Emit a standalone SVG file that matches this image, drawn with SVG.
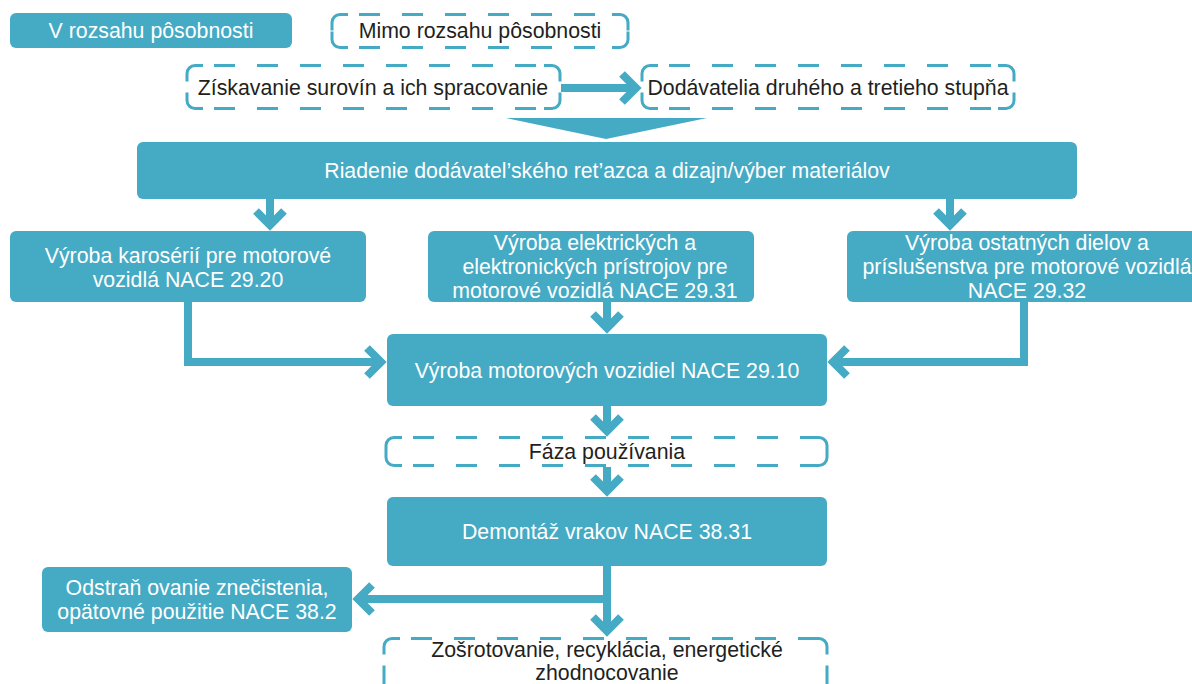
<svg xmlns="http://www.w3.org/2000/svg" width="1192" height="684" viewBox="0 0 1192 684">
<style>
.f{fill:#45AAC4;}
.bg{fill:#fff;}
.dc{fill:none;stroke:#45AAC4;stroke-width:3;}
.ds{fill:none;stroke:#45AAC4;stroke-width:3;stroke-dasharray:21 22;}
.tw{font-family:"Liberation Sans",Arial,sans-serif;font-size:21.3px;fill:#fff;text-anchor:middle;}
.tb{font-family:"Liberation Sans",Arial,sans-serif;font-size:21.3px;fill:#231F20;text-anchor:middle;}
.c{fill:none;stroke:#45AAC4;stroke-width:8;stroke-linejoin:miter;stroke-miterlimit:10;}
</style>
<rect width="1192" height="684" fill="#fff"/>
<g id="connectors">
<polygon points="506,118 707,118 606,139" fill="#45AAC4"/>
<path class="c" d="M561,88 H636 M622,74 L636,88 L622,102"/>
<path class="c" d="M270,199 V225 M256,211 L270,225 L284,211"/>
<path class="c" d="M950,199 V225 M936,211 L950,225 L964,211"/>
<path class="c" d="M607,302 V328 M593,314 L607,328 L621,314"/>
<path class="c" d="M188,302 V362 H381 M367,348 L381,362 L367,376"/>
<path class="c" d="M1024,302 V362 H833 M847,348 L833,362 L847,376"/>
<path class="c" d="M607,406 V431 M593,417 L607,431 L621,417"/>
<path class="c" d="M607,467 V491 M593,477 L607,491 L621,477"/>
<path class="c" d="M607,566 V631 M593,617 L607,631 L621,617"/>
<path class="c" d="M607,599 H358 M372,585 L358,599 L372,613"/>
</g>
<g id="legend-in">
<rect class="f" x="10" y="13" width="282" height="35" rx="6"/>
<text class="tw" x="151" y="38">V rozsahu pôsobnosti</text>
</g>
<g id="legend-out">
<path class="dc" d="M332,30.5 V22.5 A8,8 0 0 1 340,14.5 H348 M612,14.5 H620 A8,8 0 0 1 628,22.5 V30.5 M628,31.5 V39.5 A8,8 0 0 1 620,47.5 H612 M348,47.5 H340 A8,8 0 0 1 332,39.5 V31.5"/>
<path class="ds" d="M359,14.5 H612 M359,47.5 H612"/>
<text class="tb" x="480" y="38">Mimo rozsahu pôsobnosti</text>
</g>
<g id="n-raw">
<path class="dc" d="M187,81.5 V73.5 A8,8 0 0 1 195,65.5 H203 M544,65.5 H552 A8,8 0 0 1 560,73.5 V81.5 M560,92.5 V100.5 A8,8 0 0 1 552,108.5 H544 M203,108.5 H195 A8,8 0 0 1 187,100.5 V92.5"/>
<path class="ds" d="M214,65.5 H544 M214,108.5 H544"/>
<text class="tb" x="373" y="95">Získavanie surovín a ich spracovanie</text>
</g>
<g id="n-tier">
<path class="dc" d="M642,81.5 V73.5 A8,8 0 0 1 650,65.5 H658 M998,65.5 H1006 A8,8 0 0 1 1014,73.5 V81.5 M1014,92.5 V100.5 A8,8 0 0 1 1006,108.5 H998 M658,108.5 H650 A8,8 0 0 1 642,100.5 V92.5"/>
<path class="ds" d="M669,65.5 H998 M669,108.5 H998"/>
<text class="tb" x="828" y="95">Dodávatelia druhého a tretieho stupňa</text>
</g>
<g id="n-scm">
<rect class="f" x="137" y="142" width="940" height="57" rx="6"/>
<text class="tw" x="607" y="178">Riadenie dodávatel’ského ret’azca a dizajn/výber materiálov</text>
</g>
<g id="n-body">
<rect class="f" x="10" y="231" width="356" height="71" rx="6"/>
<text class="tw" x="188" y="263">Výroba karosérií pre motorové</text>
<text class="tw" x="188" y="287">vozidlá NACE 29.20</text>
</g>
<g id="n-elec">
<rect class="f" x="428" y="231" width="326" height="71" rx="6"/>
<text class="tw" x="595" y="250">Výroba elektrických a</text>
<text class="tw" x="595" y="274">elektronických prístrojov pre</text>
<text class="tw" x="595" y="298">motorové vozidlá NACE 29.31</text>
</g>
<g id="n-parts">
<rect class="f" x="847" y="231" width="360" height="71" rx="6"/>
<text class="tw" x="1027" y="250">Výroba ostatných dielov a</text>
<text class="tw" x="1027" y="274">príslušenstva pre motorové vozidlá</text>
<text class="tw" x="1027" y="298">NACE 29.32</text>
</g>
<g id="n-vehicles">
<rect class="f" x="387" y="334" width="440" height="72" rx="6"/>
<text class="tw" x="607" y="378">Výroba motorových vozidiel NACE 29.10</text>
</g>
<g id="n-use">
<path class="dc" d="M402,437.5 H394 A8,8 0 0 0 386,445.5 V457.5 A8,8 0 0 0 394,465.5 H402 M811,437.5 H819 A8,8 0 0 1 827,445.5 V457.5 A8,8 0 0 1 819,465.5 H811"/>
<path class="ds" d="M413,437.5 H811 M413,465.5 H811"/>
<text class="tb" x="607" y="459">Fáza používania</text>
</g>
<g id="n-dismantle">
<rect class="f" x="387" y="497" width="440" height="69" rx="6"/>
<text class="tw" x="607" y="539">Demontáž vrakov NACE 38.31</text>
</g>
<g id="n-remediation">
<rect class="f" x="42" y="567" width="310" height="65" rx="6"/>
<text class="tw" x="197" y="595">Odstraň ovanie znečistenia,</text>
<text class="tw" x="197" y="619">opätovné použitie NACE 38.2</text>
</g>
<g id="n-recycle">
<path class="dc" d="M384,654.5 V646.5 A8,8 0 0 1 392,638.5 H400 M811,638.5 H819 A8,8 0 0 1 827,646.5 V654.5"/>
<path class="ds" d="M411,638.5 H811 M384,665.5 V700 M827,665.5 V700"/>
<text class="tb" x="607" y="657">Zošrotovanie, recyklácia, energetické</text>
<text class="tb" x="607" y="680">zhodnocovanie</text>
</g>
</svg>
